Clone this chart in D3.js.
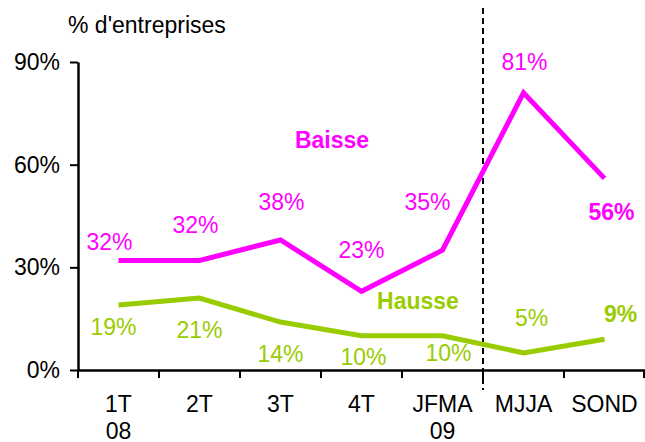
<!DOCTYPE html>
<html>
<head>
<meta charset="utf-8">
<script src="https://cdn.jsdelivr.net/npm/d3@7"></script>
<style>
  body { margin: 0; background: #fff; }
  text { font-family: "Liberation Sans", Arial, Helvetica, sans-serif; }
</style>
</head>
<body>
<div id="chart"></div>
<script>
// data
const periods = ["1T|08", "2T", "3T", "4T", "JFMA|09", "MJJA", "SOND"];
const baisse = [32, 32, 38, 23, 35, 81, 56];
const hausse = [19, 21, 14, 10, 10, 5, 9];
const yTicks = [0, 30, 60, 90];

// hand-placed label offsets (dx, dy from the point), like the original
const baisseLabelPos = [[-9, -10], [-4, -27], [1, -30], [0, -33], [-15, -40], [1, -23], [7, 42]];
const hausseLabelPos = [[-5, 30], [0, 40], [0, 40], [2, 29], [6, 25], [8, -27], [16, -17]];

const width = 645, height = 442;
const margin = { top: 62, left: 78, right: 0, bottom: 72 };
const fs = "23px";

const svg = d3.select("#chart")
    .append("svg")
    .attr("width", width)
    .attr("height", height);

const x = d3.scaleBand()
    .domain(periods)
    .range([margin.left, width - margin.right])
    .padding(0);

const y = d3.scaleLinear()
    .domain([0, 90])
    .range([height - margin.bottom, margin.top]);

const cx = d => x(d) + x.bandwidth() / 2;

// title
svg.append("text")
    .attr("x", 68)
    .attr("y", 33)
    .style("font-size", fs)
    .text("% d'entreprises");

// y axis
const yAxis = svg.append("g")
    .attr("transform", `translate(${margin.left},0)`)
    .call(d3.axisLeft(y).tickValues(yTicks).tickSize(8).tickSizeOuter(0).tickPadding(10).tickFormat(d => d + "%"));
yAxis.select(".domain").attr("stroke-width", 2.5);
yAxis.selectAll(".tick line").attr("stroke-width", 2);
yAxis.selectAll("text").style("font-size", fs).attr("fill", "#000");

// x axis, labels centred, ticks at band edges
const xAxis = svg.append("g")
    .attr("transform", `translate(0,${y(0)})`)
    .call(d3.axisBottom(x).tickSize(0).tickSizeOuter(0).tickFormat(""));
xAxis.select(".domain").attr("stroke-width", 2.5);

const edges = periods.map(p => x(p)).concat([x.range()[1] - 1]);
svg.selectAll(".xtick")
    .data(edges)
    .enter()
    .append("line")
    .attr("class", "xtick")
    .attr("x1", d => d).attr("x2", d => d)
    .attr("y1", y(0)).attr("y2", y(0) + 8)
    .attr("stroke", "#000")
    .attr("stroke-width", 2);

const xl = svg.selectAll(".xlabel")
    .data(periods)
    .enter()
    .append("text")
    .attr("class", "xlabel")
    .attr("text-anchor", "middle")
    .style("font-size", fs)
    .attr("y", y(0) + 42);
xl.each(function (p) {
    const parts = p.split("|");
    parts.forEach((s, i) => {
        d3.select(this).append("tspan")
            .attr("x", cx(p))
            .attr("dy", i === 0 ? 0 : 27)
            .text(s);
    });
});

// dashed separator between JFMA and MJJA
svg.append("line")
    .attr("x1", x("MJJA")).attr("x2", x("MJJA"))
    .attr("y1", 8).attr("y2", y(0) + 20)
    .attr("stroke", "#000")
    .attr("stroke-width", 2)
    .attr("stroke-dasharray", "6,4");

const line = d3.line()
    .x((d, i) => cx(periods[i]))
    .y(d => y(d));

const series = [
    { name: "Baisse", values: baisse, color: "#ff00ff", pos: baisseLabelPos, nameX: 332, nameY: 148 },
    { name: "Hausse", values: hausse, color: "#99cc00", pos: hausseLabelPos, nameX: 418, nameY: 309 }
];

series.forEach(s => {
    svg.append("path")
        .datum(s.values)
        .attr("fill", "none")
        .attr("stroke", s.color)
        .attr("stroke-width", 5)
        .attr("stroke-linejoin", "miter")
        .attr("d", line);

    svg.selectAll(".lab-" + s.name)
        .data(s.values)
        .enter()
        .append("text")
        .attr("class", "lab-" + s.name)
        .attr("text-anchor", "middle")
        .attr("x", (d, i) => cx(periods[i]) + s.pos[i][0])
        .attr("y", (d, i) => y(d) + s.pos[i][1])
        .style("font-size", fs)
        .style("font-weight", (d, i) => i === s.values.length - 1 ? "bold" : "normal")
        .attr("fill", s.color)
        .text(d => d + "%");

    svg.append("text")
        .attr("x", s.nameX)
        .attr("y", s.nameY)
        .attr("text-anchor", "middle")
        .style("font-size", fs)
        .style("font-weight", "bold")
        .attr("fill", s.color)
        .text(s.name);
});
</script>
</body>
</html>
